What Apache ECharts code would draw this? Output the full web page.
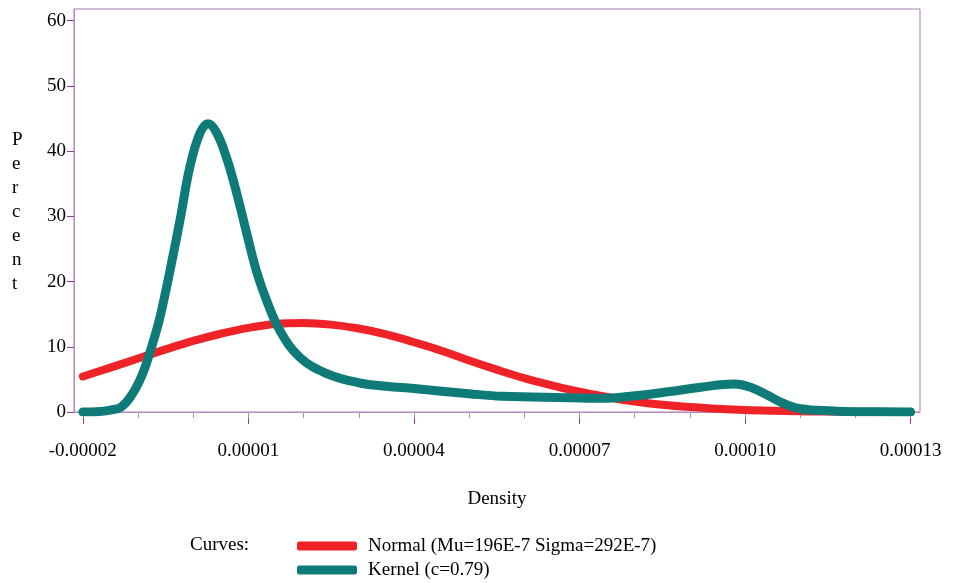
<!DOCTYPE html>
<html><head><meta charset="utf-8">
<script src="https://cdn.jsdelivr.net/npm/echarts@6/dist/echarts.min.js"></script>
<style>html,body{margin:0;padding:0;background:#fff}#c{width:959px;height:583px}</style>
</head><body><div id="c"></div>
<script>
// Normal curve (Mu=196E-7, Sigma=292E-7)
const normalX = [-0.00002,-0.000015,-0.00001,-0.000005,0,0.000005,0.00001,0.000015,0.00002,0.000025,0.00003,0.000035,0.00004,0.000045,0.00005,0.000055,0.00006,0.000065,0.00007,0.000075,0.00008,0.000085,0.00009,0.000095,0.0001,0.000105,0.00011,0.000115,0.00012,0.000125,0.00013];
const normalY = [5.45,6.8,8.2,9.6,10.9,12.0,12.9,13.5,13.65,13.4,12.8,11.9,10.7,9.4,7.9,6.5,5.2,4.1,3.1,2.3,1.6,1.1,0.75,0.5,0.31,0.19,0.11,0.06,0.03,0.02,0.01];
// Kernel curve (c=0.79)
const kernelX = [-0.00002,-0.0000175,-0.000015,-0.000013,-0.000011,-0.0000095,-0.0000085,-0.000007,-0.000006,-0.0000042,-0.0000024,-0.0000006,0.0000012,0.0000027,0.0000042,0.000006,0.0000079,0.0000097,0.0000115,0.0000133,0.0000157,0.0000193,0.0000242,0.0000302,0.000035,0.00004,0.00005,0.000056,0.000068,0.000074,0.00008,0.000086,0.000092,0.000098,0.000101,0.000104,0.000107,0.00011,0.000116,0.00012,0.00013];
const kernelY = [0,0.05,0.3,0.8,2.8,5.2,7.4,11.5,14.6,21.7,29.4,37.6,42.7,44.2,42.9,39.1,33.5,27.4,21.5,17.1,12.5,8.4,5.9,4.45,3.95,3.6,2.8,2.4,2.2,2.1,2.5,3.1,3.8,4.3,3.8,2.6,1.3,0.5,0.15,0.05,0];
const xMajorTicks = [-0.00002,0.00001,0.00004,0.00007,0.0001,0.00013];
const xMinorTicks = [-0.00002,-0.00001,0,0.00001,0.00002,0.00003,0.00004,0.00005,0.00006,0.00007,0.00008,0.00009,0.0001,0.00011,0.00012,0.00013];
const yTicks = [0,10,20,30,40,50,60];
const seriesNames = ['Normal (Mu=196E-7 Sigma=292E-7)','Kernel (c=0.79)'];

const FONT = 'Liberation Serif';
const X_MIN = -0.0000216, X_MAX = 0.0001317;
const chart = echarts.init(document.getElementById('c'));
chart.setOption({
  animation:false,
  backgroundColor:'#fff',
  grid:{left:74,right:39,top:9,bottom:171,show:true,borderColor:'#a87ab2',borderWidth:1,backgroundColor:'transparent'},
  xAxis:[{
    type:'value',min:X_MIN,max:X_MAX,
    name:'Density',nameLocation:'middle',nameGap:78,
    nameTextStyle:{fontFamily:FONT,fontSize:19,color:'#000'},
    axisLine:{show:true,onZero:false,lineStyle:{color:'#b58cbe',width:1}},
    axisTick:{show:true,customValues:xMajorTicks,length:12,lineStyle:{color:'#8a3f91'}},
    axisLabel:{show:true,customValues:xMajorTicks,margin:30,fontFamily:FONT,fontSize:19,color:'#000',
      formatter:v=>v.toFixed(5)},
    splitLine:{show:false}
  },{
    type:'value',min:X_MIN,max:X_MAX,position:'bottom',
    axisLine:{show:false,onZero:false},
    axisTick:{show:true,customValues:xMinorTicks,length:6,lineStyle:{color:'#b58cbe'}},
    axisLabel:{show:false},splitLine:{show:false}
  }],
  yAxis:{
    type:'value',min:0,max:61.8,
    axisLine:{show:true,onZero:false,lineStyle:{color:'#b58cbe'}},
    axisTick:{show:true,customValues:yTicks,length:7,lineStyle:{color:'#8a3f91'}},
    axisLabel:{show:true,customValues:yTicks,margin:8,fontFamily:FONT,fontSize:19,color:'#000'},
    splitLine:{show:false}
  },
  legend:{
    orient:'vertical',left:297,top:536,padding:0,itemWidth:60,itemHeight:9,itemGap:4,
    icon:'roundRect',
    textStyle:{fontFamily:FONT,fontSize:19,color:'#000',lineHeight:20,padding:[0,0,0,6]},
    data:seriesNames
  },
  graphic:[
    {type:'text',left:12,top:128,style:{text:'P\ne\nr\nc\ne\nn\nt',font:'19px "'+FONT+'"',fill:'#000',lineHeight:24,align:'center'}},
    {type:'text',left:190,top:536,style:{text:'Curves:',font:'19px "'+FONT+'"',fill:'#000'}}
  ],
  series:[
    {name:seriesNames[0],type:'line',xAxisIndex:0,showSymbol:false,smooth:0.4,
     lineStyle:{color:'#ee2227',width:8,cap:'round',join:'round'},itemStyle:{color:'#ee2227'},
     data:normalX.map((x,i)=>[x,normalY[i]])},
    {name:seriesNames[1],type:'line',xAxisIndex:0,showSymbol:false,smooth:0.4,
     lineStyle:{color:'#0e7b78',width:9,cap:'round',join:'round'},itemStyle:{color:'#0e7b78'},
     data:kernelX.map((x,i)=>[x,kernelY[i]])}
  ]
});
</script></body></html>
